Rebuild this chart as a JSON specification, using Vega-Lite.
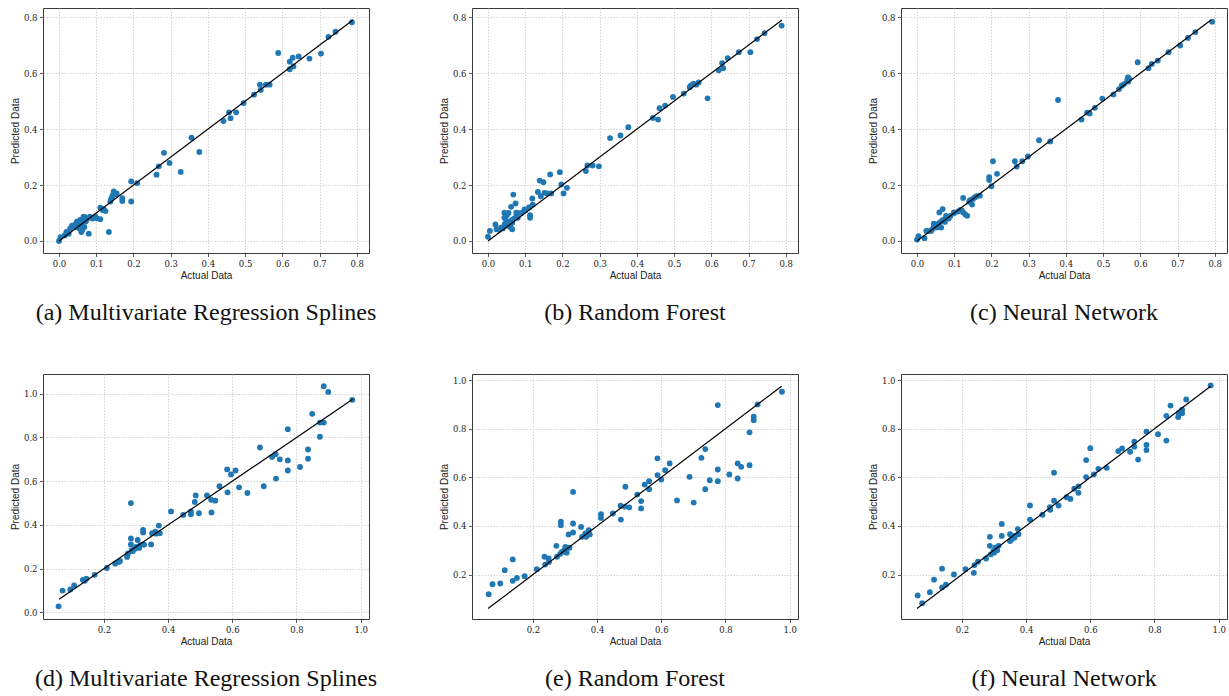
{
  "$schema": "https://vega.github.io/schema/vega-lite/v6.json",
  "padding": {"left": 9, "top": 7, "right": 1, "bottom": 4},
  "background": "white",
  "config": {
    "view": {"stroke": "#3a3a3a", "strokeWidth": 1},
    "axis": {"grid": true, "gridColor": "#c8c8c8", "gridDash": [1.5, 1.5], "gridWidth": 0.8, "domain": false, "tickColor": "#333", "tickSize": 3.5, "tickWidth": 0.8, "labelFont": "DejaVu Serif", "labelFontSize": 8.5, "labelColor": "#222", "labelPadding": 2.5, "labelOverlap": false, "labelFlush": false, "titleFont": "Liberation Sans", "titleFontSize": 10, "titleFontWeight": "normal", "titleColor": "#222", "titlePadding": 3},
    "title": {"orient": "bottom", "font": "Liberation Serif", "fontSize": 24, "fontWeight": "normal", "color": "#111", "frame": "group", "anchor": "middle", "offset": 20},
    "circle": {"size": 34, "color": "#1f77b4", "opacity": 1},
    "line": {"color": "black", "strokeWidth": 1.2}
  },
  "datasets": {
    "line1": [{"x": 0, "y": 0}, {"x": 0.79, "y": 0.79}],
    "line2": [{"x": 0.06, "y": 0.06}, {"x": 0.975, "y": 0.975}],
    "a": [{"x":0,"y":0},{"x":0.004,"y":0.014},{"x":0.02,"y":0.032},{"x":0.026,"y":0.026},{"x":0.04,"y":0.056},{"x":0.048,"y":0.069},{"x":0.057,"y":0.075},{"x":0.062,"y":0.063},{"x":0.066,"y":0.087},{"x":0.071,"y":0.081},{"x":0.06,"y":0.032},{"x":0.062,"y":0.045},{"x":0.08,"y":0.026},{"x":0.083,"y":0.087},{"x":0.098,"y":0.087},{"x":0.102,"y":0.081},{"x":0.111,"y":0.078},{"x":0.111,"y":0.119},{"x":0.12,"y":0.114},{"x":0.125,"y":0.107},{"x":0.134,"y":0.032},{"x":0.138,"y":0.141},{"x":0.143,"y":0.159},{"x":0.147,"y":0.177},{"x":0.152,"y":0.167},{"x":0.17,"y":0.153},{"x":0.17,"y":0.143},{"x":0.194,"y":0.213},{"x":0.194,"y":0.141},{"x":0.21,"y":0.207},{"x":0.262,"y":0.237},{"x":0.268,"y":0.267},{"x":0.282,"y":0.315},{"x":0.297,"y":0.279},{"x":0.327,"y":0.247},{"x":0.356,"y":0.369},{"x":0.377,"y":0.318},{"x":0.442,"y":0.429},{"x":0.457,"y":0.46},{"x":0.461,"y":0.439},{"x":0.476,"y":0.46},{"x":0.496,"y":0.493},{"x":0.524,"y":0.523},{"x":0.54,"y":0.559},{"x":0.542,"y":0.54},{"x":0.556,"y":0.559},{"x":0.566,"y":0.559},{"x":0.589,"y":0.672},{"x":0.62,"y":0.641},{"x":0.62,"y":0.614},{"x":0.628,"y":0.655},{"x":0.63,"y":0.624},{"x":0.644,"y":0.66},{"x":0.673,"y":0.652},{"x":0.704,"y":0.67},{"x":0.724,"y":0.73},{"x":0.743,"y":0.748},{"x":0.787,"y":0.782},{"x":0.035,"y":0.055},{"x":0.045,"y":0.06},{"x":0.05,"y":0.065},{"x":0.055,"y":0.07},{"x":0.06,"y":0.075},{"x":0.065,"y":0.08},{"x":0.07,"y":0.085},{"x":0.075,"y":0.078},{"x":0.058,"y":0.055},{"x":0.063,"y":0.04},{"x":0.068,"y":0.05},{"x":0.045,"y":0.05},{"x":0.055,"y":0.045},{"x":0.085,"y":0.085},{"x":0.09,"y":0.08},{"x":0.118,"y":0.11},{"x":0.14,"y":0.15},{"x":0.145,"y":0.165},{"x":0.155,"y":0.17},{"x":0.03,"y":0.045},{"x":0.015,"y":0.02},{"x":0.072,"y":0.07}],
    "b": [{"x":0,"y":0.015},{"x":0.005,"y":0.036},{"x":0.02,"y":0.059},{"x":0.023,"y":0.042},{"x":0.035,"y":0.048},{"x":0.044,"y":0.101},{"x":0.044,"y":0.083},{"x":0.049,"y":0.071},{"x":0.058,"y":0.053},{"x":0.062,"y":0.122},{"x":0.065,"y":0.042},{"x":0.068,"y":0.166},{"x":0.074,"y":0.134},{"x":0.076,"y":0.101},{"x":0.08,"y":0.083},{"x":0.098,"y":0.113},{"x":0.113,"y":0.092},{"x":0.113,"y":0.083},{"x":0.119,"y":0.152},{"x":0.134,"y":0.175},{"x":0.139,"y":0.216},{"x":0.149,"y":0.21},{"x":0.152,"y":0.172},{"x":0.167,"y":0.238},{"x":0.17,"y":0.17},{"x":0.193,"y":0.246},{"x":0.197,"y":0.202},{"x":0.203,"y":0.17},{"x":0.212,"y":0.19},{"x":0.263,"y":0.25},{"x":0.267,"y":0.27},{"x":0.281,"y":0.27},{"x":0.298,"y":0.267},{"x":0.328,"y":0.368},{"x":0.356,"y":0.377},{"x":0.377,"y":0.407},{"x":0.443,"y":0.44},{"x":0.457,"y":0.434},{"x":0.461,"y":0.475},{"x":0.476,"y":0.484},{"x":0.497,"y":0.515},{"x":0.526,"y":0.527},{"x":0.542,"y":0.55},{"x":0.553,"y":0.562},{"x":0.56,"y":0.559},{"x":0.566,"y":0.567},{"x":0.59,"y":0.51},{"x":0.62,"y":0.61},{"x":0.629,"y":0.636},{"x":0.632,"y":0.618},{"x":0.644,"y":0.654},{"x":0.674,"y":0.675},{"x":0.705,"y":0.675},{"x":0.723,"y":0.722},{"x":0.743,"y":0.743},{"x":0.789,"y":0.77},{"x":0.04,"y":0.045},{"x":0.05,"y":0.055},{"x":0.055,"y":0.06},{"x":0.06,"y":0.07},{"x":0.065,"y":0.075},{"x":0.07,"y":0.08},{"x":0.075,"y":0.085},{"x":0.045,"y":0.06},{"x":0.05,"y":0.09},{"x":0.055,"y":0.1},{"x":0.06,"y":0.05},{"x":0.065,"y":0.065},{"x":0.08,"y":0.1},{"x":0.09,"y":0.1},{"x":0.1,"y":0.11},{"x":0.11,"y":0.12},{"x":0.03,"y":0.04},{"x":0.142,"y":0.16},{"x":0.16,"y":0.17},{"x":0.12,"y":0.13},{"x":0.545,"y":0.555},{"x":0.55,"y":0.56}],
    "c": [{"x":0,"y":0.005},{"x":0.004,"y":0.017},{"x":0.02,"y":0.01},{"x":0.025,"y":0.036},{"x":0.038,"y":0.036},{"x":0.045,"y":0.062},{"x":0.051,"y":0.048},{"x":0.06,"y":0.102},{"x":0.065,"y":0.048},{"x":0.069,"y":0.114},{"x":0.072,"y":0.072},{"x":0.078,"y":0.09},{"x":0.099,"y":0.102},{"x":0.115,"y":0.11},{"x":0.124,"y":0.154},{"x":0.124,"y":0.102},{"x":0.135,"y":0.09},{"x":0.142,"y":0.146},{"x":0.148,"y":0.13},{"x":0.155,"y":0.156},{"x":0.169,"y":0.162},{"x":0.194,"y":0.228},{"x":0.194,"y":0.218},{"x":0.2,"y":0.196},{"x":0.204,"y":0.285},{"x":0.215,"y":0.24},{"x":0.263,"y":0.285},{"x":0.268,"y":0.266},{"x":0.283,"y":0.285},{"x":0.298,"y":0.302},{"x":0.328,"y":0.36},{"x":0.358,"y":0.356},{"x":0.379,"y":0.504},{"x":0.442,"y":0.434},{"x":0.457,"y":0.459},{"x":0.464,"y":0.456},{"x":0.478,"y":0.476},{"x":0.498,"y":0.509},{"x":0.528,"y":0.524},{"x":0.543,"y":0.543},{"x":0.556,"y":0.561},{"x":0.567,"y":0.585},{"x":0.568,"y":0.57},{"x":0.593,"y":0.639},{"x":0.622,"y":0.618},{"x":0.631,"y":0.633},{"x":0.647,"y":0.645},{"x":0.676,"y":0.675},{"x":0.707,"y":0.699},{"x":0.728,"y":0.726},{"x":0.748,"y":0.747},{"x":0.793,"y":0.784},{"x":0.03,"y":0.035},{"x":0.04,"y":0.04},{"x":0.045,"y":0.05},{"x":0.05,"y":0.055},{"x":0.055,"y":0.06},{"x":0.06,"y":0.065},{"x":0.065,"y":0.07},{"x":0.07,"y":0.075},{"x":0.075,"y":0.068},{"x":0.08,"y":0.085},{"x":0.085,"y":0.08},{"x":0.058,"y":0.05},{"x":0.09,"y":0.09},{"x":0.1,"y":0.1},{"x":0.11,"y":0.105},{"x":0.12,"y":0.11},{"x":0.13,"y":0.095},{"x":0.14,"y":0.14},{"x":0.15,"y":0.15},{"x":0.155,"y":0.155},{"x":0.16,"y":0.16},{"x":0.55,"y":0.555},{"x":0.565,"y":0.575},{"x":0.57,"y":0.58}],
    "d": [{"x":0.0585,"y":0.028},{"x":0.071,"y":0.1},{"x":0.095,"y":0.105},{"x":0.107,"y":0.123},{"x":0.134,"y":0.149},{"x":0.145,"y":0.154},{"x":0.171,"y":0.172},{"x":0.209,"y":0.203},{"x":0.235,"y":0.223},{"x":0.246,"y":0.231},{"x":0.272,"y":0.254},{"x":0.284,"y":0.5},{"x":0.284,"y":0.338},{"x":0.284,"y":0.311},{"x":0.287,"y":0.285},{"x":0.298,"y":0.292},{"x":0.305,"y":0.331},{"x":0.313,"y":0.308},{"x":0.322,"y":0.377},{"x":0.322,"y":0.366},{"x":0.347,"y":0.311},{"x":0.35,"y":0.362},{"x":0.36,"y":0.369},{"x":0.371,"y":0.397},{"x":0.374,"y":0.362},{"x":0.409,"y":0.462},{"x":0.447,"y":0.446},{"x":0.471,"y":0.462},{"x":0.471,"y":0.449},{"x":0.483,"y":0.505},{"x":0.486,"y":0.535},{"x":0.496,"y":0.454},{"x":0.521,"y":0.535},{"x":0.534,"y":0.515},{"x":0.535,"y":0.457},{"x":0.547,"y":0.511},{"x":0.56,"y":0.577},{"x":0.584,"y":0.654},{"x":0.585,"y":0.549},{"x":0.596,"y":0.631},{"x":0.61,"y":0.649},{"x":0.621,"y":0.572},{"x":0.647,"y":0.546},{"x":0.686,"y":0.754},{"x":0.698,"y":0.577},{"x":0.724,"y":0.711},{"x":0.735,"y":0.723},{"x":0.736,"y":0.612},{"x":0.748,"y":0.7},{"x":0.773,"y":0.838},{"x":0.773,"y":0.695},{"x":0.773,"y":0.649},{"x":0.811,"y":0.665},{"x":0.836,"y":0.745},{"x":0.836,"y":0.703},{"x":0.849,"y":0.908},{"x":0.873,"y":0.803},{"x":0.873,"y":0.868},{"x":0.885,"y":0.868},{"x":0.885,"y":1.034},{"x":0.899,"y":1.008},{"x":0.974,"y":0.972},{"x":0.29,"y":0.28},{"x":0.3,"y":0.3},{"x":0.31,"y":0.295},{"x":0.325,"y":0.31},{"x":0.362,"y":0.36},{"x":0.275,"y":0.27},{"x":0.14,"y":0.145},{"x":0.25,"y":0.235}],
    "e": [{"x":0.062,"y":0.119},{"x":0.074,"y":0.16},{"x":0.098,"y":0.163},{"x":0.112,"y":0.218},{"x":0.137,"y":0.262},{"x":0.137,"y":0.174},{"x":0.15,"y":0.186},{"x":0.174,"y":0.193},{"x":0.212,"y":0.222},{"x":0.236,"y":0.273},{"x":0.238,"y":0.241},{"x":0.249,"y":0.266},{"x":0.25,"y":0.252},{"x":0.273,"y":0.318},{"x":0.275,"y":0.273},{"x":0.287,"y":0.417},{"x":0.287,"y":0.403},{"x":0.29,"y":0.293},{"x":0.298,"y":0.3},{"x":0.301,"y":0.314},{"x":0.311,"y":0.365},{"x":0.314,"y":0.31},{"x":0.325,"y":0.54},{"x":0.325,"y":0.41},{"x":0.325,"y":0.373},{"x":0.35,"y":0.396},{"x":0.353,"y":0.355},{"x":0.363,"y":0.369},{"x":0.366,"y":0.355},{"x":0.374,"y":0.383},{"x":0.377,"y":0.365},{"x":0.412,"y":0.448},{"x":0.412,"y":0.433},{"x":0.449,"y":0.451},{"x":0.473,"y":0.483},{"x":0.474,"y":0.426},{"x":0.488,"y":0.561},{"x":0.486,"y":0.479},{"x":0.5,"y":0.476},{"x":0.525,"y":0.529},{"x":0.537,"y":0.502},{"x":0.537,"y":0.472},{"x":0.548,"y":0.57},{"x":0.562,"y":0.584},{"x":0.562,"y":0.551},{"x":0.588,"y":0.678},{"x":0.588,"y":0.609},{"x":0.6,"y":0.591},{"x":0.612,"y":0.629},{"x":0.626,"y":0.657},{"x":0.649,"y":0.505},{"x":0.688,"y":0.602},{"x":0.701,"y":0.496},{"x":0.725,"y":0.68},{"x":0.737,"y":0.716},{"x":0.737,"y":0.551},{"x":0.751,"y":0.588},{"x":0.776,"y":0.897},{"x":0.776,"y":0.632},{"x":0.776,"y":0.584},{"x":0.812,"y":0.612},{"x":0.838,"y":0.657},{"x":0.838,"y":0.595},{"x":0.849,"y":0.643},{"x":0.875,"y":0.785},{"x":0.875,"y":0.65},{"x":0.888,"y":0.849},{"x":0.888,"y":0.835},{"x":0.9,"y":0.9},{"x":0.976,"y":0.952},{"x":0.285,"y":0.285},{"x":0.305,"y":0.29}],
    "f": [{"x":0.062,"y":0.114},{"x":0.076,"y":0.082},{"x":0.1,"y":0.127},{"x":0.113,"y":0.179},{"x":0.138,"y":0.224},{"x":0.138,"y":0.147},{"x":0.15,"y":0.158},{"x":0.175,"y":0.2},{"x":0.211,"y":0.222},{"x":0.237,"y":0.207},{"x":0.239,"y":0.239},{"x":0.25,"y":0.253},{"x":0.275,"y":0.266},{"x":0.287,"y":0.355},{"x":0.287,"y":0.318},{"x":0.29,"y":0.283},{"x":0.298,"y":0.297},{"x":0.304,"y":0.311},{"x":0.314,"y":0.318},{"x":0.324,"y":0.408},{"x":0.324,"y":0.359},{"x":0.35,"y":0.366},{"x":0.35,"y":0.338},{"x":0.364,"y":0.352},{"x":0.374,"y":0.387},{"x":0.376,"y":0.366},{"x":0.412,"y":0.484},{"x":0.412,"y":0.426},{"x":0.451,"y":0.446},{"x":0.474,"y":0.477},{"x":0.475,"y":0.466},{"x":0.487,"y":0.619},{"x":0.487,"y":0.504},{"x":0.501,"y":0.484},{"x":0.526,"y":0.518},{"x":0.538,"y":0.511},{"x":0.55,"y":0.553},{"x":0.563,"y":0.563},{"x":0.563,"y":0.536},{"x":0.587,"y":0.671},{"x":0.587,"y":0.601},{"x":0.6,"y":0.72},{"x":0.611,"y":0.612},{"x":0.625,"y":0.635},{"x":0.651,"y":0.639},{"x":0.687,"y":0.708},{"x":0.699,"y":0.719},{"x":0.724,"y":0.705},{"x":0.737,"y":0.747},{"x":0.737,"y":0.726},{"x":0.749,"y":0.673},{"x":0.775,"y":0.788},{"x":0.775,"y":0.733},{"x":0.775,"y":0.712},{"x":0.811,"y":0.777},{"x":0.837,"y":0.853},{"x":0.837,"y":0.751},{"x":0.85,"y":0.895},{"x":0.874,"y":0.848},{"x":0.876,"y":0.864},{"x":0.886,"y":0.878},{"x":0.886,"y":0.864},{"x":0.899,"y":0.92},{"x":0.975,"y":0.978},{"x":0.3,"y":0.29},{"x":0.31,"y":0.3},{"x":0.355,"y":0.345},{"x":0.365,"y":0.36}]
  },
  "concat": [
    {"title": "(a) Multivariate Regression Splines", "width": 326, "height": 245, "layer": [
      {"data": {"name": "a"}, "mark": "circle", "encoding": {
        "x": {"field": "x", "type": "quantitative", "scale": {"domain": [-0.043, 0.833], "nice": false, "zero": false}, "axis": {"values": [0, 0.1, 0.2, 0.3, 0.4, 0.5, 0.6, 0.7, 0.8], "format": ".1f", "title": "Actual Data"}},
        "y": {"field": "y", "type": "quantitative", "scale": {"domain": [-0.043, 0.833], "nice": false, "zero": false}, "axis": {"values": [0, 0.1, 0.2, 0.3, 0.4, 0.5, 0.6, 0.7, 0.8], "format": ".1f", "title": "Predicted Data"}}}},
      {"data": {"name": "line1"}, "mark": "line", "encoding": {"x": {"field": "x", "type": "quantitative"}, "y": {"field": "y", "type": "quantitative"}}}
    ]},
    {"title": "(b) Random Forest", "width": 326, "height": 245, "layer": [
      {"data": {"name": "b"}, "mark": "circle", "encoding": {
        "x": {"field": "x", "type": "quantitative", "scale": {"domain": [-0.043, 0.833], "nice": false, "zero": false}, "axis": {"values": [0, 0.1, 0.2, 0.3, 0.4, 0.5, 0.6, 0.7, 0.8], "format": ".1f", "title": "Actual Data"}},
        "y": {"field": "y", "type": "quantitative", "scale": {"domain": [-0.043, 0.833], "nice": false, "zero": false}, "axis": {"values": [0, 0.1, 0.2, 0.3, 0.4, 0.5, 0.6, 0.7, 0.8], "format": ".1f", "title": "Predicted Data"}}}},
      {"data": {"name": "line1"}, "mark": "line", "encoding": {"x": {"field": "x", "type": "quantitative"}, "y": {"field": "y", "type": "quantitative"}}}
    ]},
    {"title": "(c) Neural Network", "width": 326, "height": 245, "layer": [
      {"data": {"name": "c"}, "mark": "circle", "encoding": {
        "x": {"field": "x", "type": "quantitative", "scale": {"domain": [-0.043, 0.833], "nice": false, "zero": false}, "axis": {"values": [0, 0.1, 0.2, 0.3, 0.4, 0.5, 0.6, 0.7, 0.8], "format": ".1f", "title": "Actual Data"}},
        "y": {"field": "y", "type": "quantitative", "scale": {"domain": [-0.043, 0.833], "nice": false, "zero": false}, "axis": {"values": [0, 0.1, 0.2, 0.3, 0.4, 0.5, 0.6, 0.7, 0.8], "format": ".1f", "title": "Predicted Data"}}}},
      {"data": {"name": "line1"}, "mark": "line", "encoding": {"x": {"field": "x", "type": "quantitative"}, "y": {"field": "y", "type": "quantitative"}}}
    ]},
    {"title": "(d) Multivariate Regression Splines", "width": 326, "height": 245, "layer": [
      {"data": {"name": "d"}, "mark": "circle", "encoding": {
        "x": {"field": "x", "type": "quantitative", "scale": {"domain": [0.01, 1.026], "nice": false, "zero": false}, "axis": {"values": [0.2, 0.4, 0.6, 0.8, 1.0], "format": ".1f", "title": "Actual Data"}},
        "y": {"field": "y", "type": "quantitative", "scale": {"domain": [-0.03, 1.09], "nice": false, "zero": false}, "axis": {"values": [0, 0.2, 0.4, 0.6, 0.8, 1.0], "format": ".1f", "title": "Predicted Data"}}}},
      {"data": {"name": "line2"}, "mark": "line", "encoding": {"x": {"field": "x", "type": "quantitative"}, "y": {"field": "y", "type": "quantitative"}}}
    ]},
    {"title": "(e) Random Forest", "width": 326, "height": 245, "layer": [
      {"data": {"name": "e"}, "mark": "circle", "encoding": {
        "x": {"field": "x", "type": "quantitative", "scale": {"domain": [0.01, 1.026], "nice": false, "zero": false}, "axis": {"values": [0.2, 0.4, 0.6, 0.8, 1.0], "format": ".1f", "title": "Actual Data"}},
        "y": {"field": "y", "type": "quantitative", "scale": {"domain": [0.017, 1.025], "nice": false, "zero": false}, "axis": {"values": [0.2, 0.4, 0.6, 0.8, 1.0], "format": ".1f", "title": "Predicted Data"}}}},
      {"data": {"name": "line2"}, "mark": "line", "encoding": {"x": {"field": "x", "type": "quantitative"}, "y": {"field": "y", "type": "quantitative"}}}
    ]},
    {"title": "(f) Neural Network", "width": 326, "height": 245, "layer": [
      {"data": {"name": "f"}, "mark": "circle", "encoding": {
        "x": {"field": "x", "type": "quantitative", "scale": {"domain": [0.01, 1.026], "nice": false, "zero": false}, "axis": {"values": [0.2, 0.4, 0.6, 0.8, 1.0], "format": ".1f", "title": "Actual Data"}},
        "y": {"field": "y", "type": "quantitative", "scale": {"domain": [0.017, 1.025], "nice": false, "zero": false}, "axis": {"values": [0.2, 0.4, 0.6, 0.8, 1.0], "format": ".1f", "title": "Predicted Data"}}}},
      {"data": {"name": "line2"}, "mark": "line", "encoding": {"x": {"field": "x", "type": "quantitative"}, "y": {"field": "y", "type": "quantitative"}}}
    ]}
  ],
  "columns": 3,
  "spacing": {"row": 121, "column": 103},
  "bounds": "flush",
  "resolve": {"scale": {"x": "independent", "y": "independent"}}
}
